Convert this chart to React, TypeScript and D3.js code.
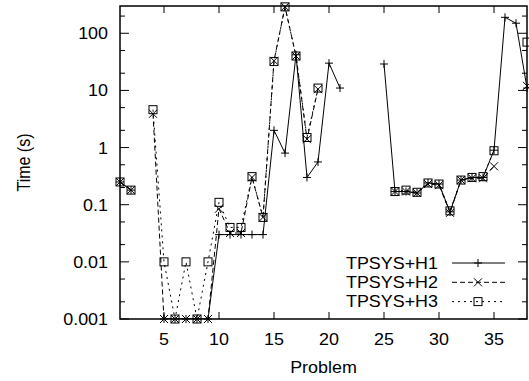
import React from "react";
import * as d3 from "d3";

const problems = [1,2,3,4,5,6,7,8,9,10,11,12,13,14,15,16,17,18,19,20,21,22,23,24,25,26,27,28,29,30,31,32,33,34,35,36,37,38];

const h1: (number | null)[] = [0.25,0.18,null,null,0.001,0.001,0.001,0.001,0.001,0.03,0.03,0.03,0.03,0.03,2.0,0.8,42,0.3,0.56,30,11,null,null,null,29,0.17,0.17,0.16,0.24,0.23,0.075,0.27,0.3,0.3,0.9,190,150,11];
const h2: (number | null)[] = [0.25,0.18,null,3.9,0.001,0.001,0.001,0.001,0.001,0.085,0.032,0.032,0.3,0.06,33,290,40,1.4,10.5,null,null,null,null,null,null,0.17,0.17,0.16,0.23,0.22,0.072,0.27,0.29,0.29,0.47,null,null,12];
const h3: (number | null)[] = [0.25,0.18,null,4.6,0.01,0.001,0.01,0.001,0.01,0.11,0.04,0.04,0.31,0.06,32,290,40,1.5,11,null,null,null,null,null,null,0.17,0.18,0.165,0.24,0.23,0.078,0.27,0.3,0.31,0.88,null,null,70];

const seriesNames = ["TPSYS+H1", "TPSYS+H2", "TPSYS+H3"];
const xTicks = [5, 10, 15, 20, 25, 30, 35];
const yTicks = [0.001, 0.01, 0.1, 1, 10, 100];
const yTickLabels = ["0.001", "0.01", "0.1", "1", "10", "100"];
const yMinorTicks = [0.002, 0.005, 0.02, 0.05, 0.2, 0.5, 2, 5, 20, 50, 200];

const W = 529, H = 381;
const L = 120, R = 527, T = 6, B = 319;
const FONT = "'Liberation Sans', Arial, Helvetica, sans-serif";
const SX = 1.12;

const x = d3.scaleLinear().domain([1, 38]).range([L, R]);
const y = d3.scaleLog().domain([0.001, 300]).range([B, T]);

const dashes = ["none", "5,3", "2,4"];

function Marker({ kind, cx, cy }: { kind: number; cx: number; cy: number }) {
  const s = 4;
  if (kind === 0)
    return <path d={`M${cx - s},${cy}H${cx + s}M${cx},${cy - s}V${cy + s}`} stroke="#000" strokeWidth={1} fill="none" />;
  if (kind === 1)
    return <path d={`M${cx - s},${cy - s}L${cx + s},${cy + s}M${cx - s},${cy + s}L${cx + s},${cy - s}`} stroke="#000" strokeWidth={1} fill="none" />;
  return <rect x={cx - s} y={cy - s} width={2 * s} height={2 * s} stroke="#000" strokeWidth={1} fill="none" />;
}

function Txt({ x0, y0, anchor, children, rotate }: any) {
  return (
    <text
      transform={`translate(${x0},${y0})${rotate ? " rotate(-90)" : ""} scale(${rotate ? 1 : SX},${rotate ? SX : 1})`}
      textAnchor={anchor}
      fontFamily={FONT}
      fontSize={16}
      fill="#000"
    >
      {children}
    </text>
  );
}

export default function App() {
  const all = [h1, h2, h3];
  const line = d3
    .line<[number, number | null]>()
    .defined((d) => d[1] !== null)
    .x((d) => x(d[0]))
    .y((d) => y(d[1] as number));

  return (
    <svg width={W} height={H} style={{ position: "absolute", left: 0, top: 0, background: "#fff" }}>
      <defs>
        <clipPath id="plotclip">
          <rect x={L} y={T} width={R - L} height={B - T} />
        </clipPath>
      </defs>
      <rect x={0} y={0} width={W} height={H} fill="#fff" />

      {/* ticks */}
      {yTicks.map((t) => (
        <g key={"yt" + t}>
          <line x1={L} x2={L + 9} y1={y(t)} y2={y(t)} stroke="#000" />
          <line x1={R} x2={R - 9} y1={y(t)} y2={y(t)} stroke="#000" />
        </g>
      ))}
      {yMinorTicks.map((t) => (
        <g key={"ym" + t}>
          <line x1={L} x2={L + 5} y1={y(t)} y2={y(t)} stroke="#000" />
          <line x1={R} x2={R - 5} y1={y(t)} y2={y(t)} stroke="#000" />
        </g>
      ))}
      {xTicks.map((t) => (
        <g key={"xt" + t}>
          <line x1={x(t)} x2={x(t)} y1={B} y2={B - 7} stroke="#000" />
          <line x1={x(t)} x2={x(t)} y1={T} y2={T + 7} stroke="#000" />
        </g>
      ))}

      {/* series lines */}
      <g clipPath="url(#plotclip)">
        {all.map((s, i) => (
          <path
            key={"l" + i}
            d={line(problems.map((p, j) => [p, s[j]] as [number, number | null])) || ""}
            fill="none"
            stroke="#000"
            strokeWidth={1}
            strokeDasharray={dashes[i]}
          />
        ))}
      </g>
      {/* markers */}
      {all.map((s, i) =>
        problems.map((p, j) =>
          s[j] === null ? null : <Marker key={`m${i}-${j}`} kind={i} cx={x(p)} cy={y(s[j] as number)} />
        )
      )}

      {/* border */}
      <rect x={L} y={T} width={R - L} height={B - T} fill="none" stroke="#000" strokeWidth={1.5} />

      {/* tick labels */}
      {yTicks.map((t, i) => (
        <Txt key={"yl" + t} x0={L - 12} y0={y(t) + 6} anchor="end">
          {yTickLabels[i]}
        </Txt>
      ))}
      {xTicks.map((t) => (
        <Txt key={"xl" + t} x0={x(t)} y0={345} anchor="middle">
          {String(t)}
        </Txt>
      ))}
      <Txt x0={(L + R) / 2} y0={373} anchor="middle">Problem</Txt>
      <Txt x0={30} y0={(T + B) / 2} anchor="middle" rotate>
        Time (s)
      </Txt>

      {/* legend */}
      {seriesNames.map((n, i) => {
        const ly = 263 + i * 19.3;
        return (
          <g key={"lg" + i}>
            <Txt x0={438} y0={ly + 5.5} anchor="end">{n}</Txt>
            <line x1={452} x2={505} y1={ly} y2={ly} stroke="#000" strokeWidth={1} strokeDasharray={dashes[i]} />
            <Marker kind={i} cx={478} cy={ly} />
          </g>
        );
      })}
    </svg>
  );
}
